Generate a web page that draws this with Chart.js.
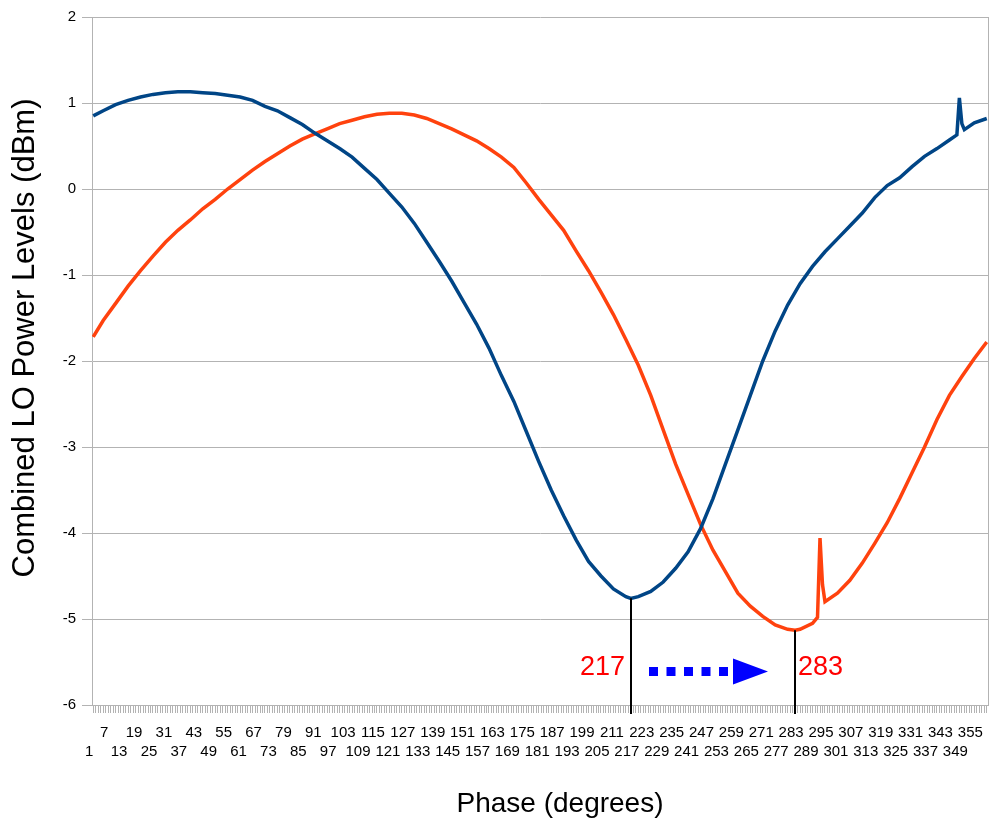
<!DOCTYPE html>
<html>
<head>
<meta charset="utf-8">
<script src="https://cdn.jsdelivr.net/npm/chart.js@4.4.1/dist/chart.umd.min.js"></script>
<style>
  html, body { margin: 0; padding: 0; background: #ffffff; }
  canvas { display: block; }
</style>
</head>
<body>
<canvas id="chart" width="990" height="822"></canvas>
<script>
// Combined LO power vs. phase, two sweeps (dBm)
const blueDeg = [1, 5, 10, 15, 20, 25, 30, 35, 40, 45, 50, 55, 60, 65, 70, 75, 80, 85, 90, 95,
                 100, 105, 110, 115, 120, 125, 130, 135, 140, 145, 150, 155, 160, 165, 170, 175, 180, 185, 190, 195,
                 200, 205, 210, 215, 217, 220, 225, 230, 235, 240, 245, 250, 255, 260, 265, 270, 275, 280, 285, 290,
                 295, 300, 305, 310, 315, 320, 325, 330, 335, 340, 345, 348, 349, 350, 351, 355, 360];
const blueDbm = [0.85, 0.91, 0.98, 1.03, 1.07, 1.10, 1.12, 1.13, 1.13, 1.12, 1.11, 1.09, 1.07, 1.03, 0.96, 0.91, 0.83, 0.75, 0.65, 0.56,
                 0.47, 0.37, 0.24, 0.11, -0.05, -0.21, -0.40, -0.62, -0.84, -1.07, -1.32, -1.57, -1.85, -2.17, -2.47, -2.82, -3.17, -3.50, -3.80, -4.08,
                 -4.33, -4.50, -4.65, -4.74, -4.76, -4.74, -4.68, -4.57, -4.41, -4.22, -3.95, -3.60, -3.20, -2.80, -2.40, -2.00, -1.65, -1.35, -1.10, -0.90,
                 -0.73, -0.58, -0.43, -0.28, -0.10, 0.04, 0.13, 0.26, 0.38, 0.47, 0.57, 0.63, 1.06, 0.76, 0.69, 0.77, 0.82];

const orangeDeg = [1, 5, 10, 15, 20, 25, 30, 35, 40, 45, 50, 55, 60, 65, 70, 75, 80, 85, 90, 95,
                   100, 105, 110, 115, 120, 125, 130, 135, 140, 145, 150, 155, 160, 165, 170, 175, 180, 185, 190, 195,
                   200, 205, 210, 215, 220, 225, 230, 235, 240, 245, 250, 255, 260, 265, 270, 275, 280, 283, 285, 290,
                   292, 293, 294, 295, 300, 305, 310, 315, 320, 325, 330, 335, 340, 345, 350, 355, 360];
const orangeDbm = [-1.72, -1.53, -1.33, -1.13, -0.95, -0.78, -0.62, -0.48, -0.36, -0.23, -0.12, 0.00, 0.11, 0.22, 0.32, 0.41, 0.50, 0.58, 0.64, 0.70,
                   0.76, 0.80, 0.84, 0.87, 0.88, 0.88, 0.86, 0.82, 0.76, 0.70, 0.63, 0.56, 0.47, 0.37, 0.25, 0.07, -0.12, -0.30, -0.48, -0.72,
                   -0.95, -1.20, -1.46, -1.75, -2.05, -2.40, -2.80, -3.20, -3.55, -3.90, -4.20, -4.45, -4.70, -4.85, -4.97, -5.07, -5.12, -5.13, -5.12, -5.05,
                   -4.98, -4.06, -4.60, -4.80, -4.70, -4.55, -4.35, -4.12, -3.88, -3.60, -3.30, -3.00, -2.68, -2.40, -2.18, -1.97, -1.78];

// Phase categories 1..360; every sixth one is labelled, alternating rows
const phaseCategories = Array.from({ length: 360 }, (_, i) => i + 1);
const yTickValues = [-6, -5, -4, -3, -2, -1, 0, 1, 2];

// Minima marked under the curves
const minimaDeg = [217, 283];

const BLUE = '#004586';
const ORANGE = '#ff420e';
const GRID = '#b3b3b3';
const FONT = '"Liberation Sans", Arial, sans-serif';

function toPoints(xs, ys) {
  return xs.map((x, i) => ({ x: x, y: ys[i] }));
}
function valueAt(xs, ys, deg) {
  const i = xs.indexOf(deg);
  return i >= 0 ? ys[i] : null;
}

const frame = {
  id: 'frame',
  beforeDatasetsDraw(chart) {
    const { ctx, chartArea: a } = chart;
    ctx.save();
    ctx.strokeStyle = GRID;
    ctx.lineWidth = 1;
    ctx.beginPath();
    ctx.moveTo(a.right + 0.5, a.top);
    ctx.lineTo(a.right + 0.5, a.bottom);
    ctx.stroke();
    ctx.restore();
  },
  afterDraw(chart) {
    const { ctx, chartArea: a } = chart;
    ctx.save();
    ctx.fillStyle = '#000000';
    ctx.textAlign = 'center';
    ctx.textBaseline = 'middle';
    ctx.font = '28px ' + FONT;
    ctx.fillText('Phase (degrees)', (a.left + a.right) / 2 + 20, 804);
    ctx.font = '31px ' + FONT;
    ctx.translate(25, 338);
    ctx.rotate(-Math.PI / 2);
    ctx.fillText('Combined LO Power Levels (dBm)', 0, 0);
    ctx.restore();
  }
};

const minimaMarks = {
  id: 'minimaMarks',
  afterDatasetsDraw(chart) {
    const { ctx, chartArea: a, scales } = chart;
    const xs = scales.x, ys = scales.y;
    const sources = [[blueDeg, blueDbm], [orangeDeg, orangeDbm]];
    const px = [];
    ctx.save();
    minimaDeg.forEach((deg, k) => {
      const x = Math.round(xs.getPixelForValue(deg));
      const y = ys.getPixelForValue(valueAt(sources[k][0], sources[k][1], deg));
      px.push(x);
      ctx.strokeStyle = '#000000';
      ctx.lineWidth = 2;
      ctx.beginPath();
      ctx.moveTo(x, y);
      ctx.lineTo(x, a.bottom + 9);
      ctx.stroke();
      ctx.fillStyle = '#ff0000';
      ctx.font = '27px ' + FONT;
      ctx.textBaseline = 'middle';
      ctx.textAlign = k === 0 ? 'right' : 'left';
      ctx.fillText(String(deg), k === 0 ? x - 6 : x + 3, ys.getPixelForValue(-5.57));
    });
    // dotted shift arrow from the first minimum to the second
    const ay = ys.getPixelForValue(-5.61);
    const x0 = px[0] + 18, tip = px[1] - 27, head = 35;
    ctx.strokeStyle = '#0000ff';
    ctx.fillStyle = '#0000ff';
    ctx.lineWidth = 9;
    ctx.setLineDash([9, 8.5]);
    ctx.beginPath();
    ctx.moveTo(x0, ay);
    ctx.lineTo(tip - head - 4, ay);
    ctx.stroke();
    ctx.setLineDash([]);
    ctx.beginPath();
    ctx.moveTo(tip - head, ay - 13);
    ctx.lineTo(tip, ay);
    ctx.lineTo(tip - head, ay + 13);
    ctx.closePath();
    ctx.fill();
    ctx.restore();
  }
};

new Chart(document.getElementById('chart'), {
  type: 'line',
  data: {
    datasets: [
      { label: 'Sweep 1', data: toPoints(blueDeg, blueDbm), borderColor: BLUE, borderWidth: 3.5,
        pointRadius: 0, tension: 0, fill: false },
      { label: 'Sweep 2', data: toPoints(orangeDeg, orangeDbm), borderColor: ORANGE, borderWidth: 3.5,
        pointRadius: 0, tension: 0, fill: false }
    ]
  },
  options: {
    responsive: false,
    animation: false,
    devicePixelRatio: 1,
    layout: { padding: { left: 0, right: 2, top: 17, bottom: 0 } },
    plugins: { legend: { display: false }, tooltip: { enabled: false } },
    scales: {
      x: {
        type: 'linear',
        min: 0.5,
        max: 360.5,
        afterBuildTicks(scale) {
          scale.ticks = phaseCategories.map(v => ({ value: v }));
        },
        afterFit(scale) {
          scale.height = 117;
          scale.paddingLeft = 0;
          scale.paddingRight = 0;
        },
        grid: { drawOnChartArea: false, color: GRID, tickLength: 8, lineWidth: 1 },
        border: { color: GRID },
        ticks: {
          autoSkip: false,
          maxRotation: 0,
          minRotation: 0,
          padding: 10,
          labelOffset: -4,
          color: '#000000',
          font: { family: FONT, size: 15, lineHeight: 1.27 },
          callback(v) {
            if ((v - 1) % 6 !== 0) return '';
            const k = (v - 1) / 6;
            return k % 2 === 0 ? ['', String(v)] : [String(v), ''];
          }
        }
      },
      y: {
        min: -6,
        max: 2,
        afterBuildTicks(scale) {
          scale.ticks = yTickValues.map(v => ({ value: v }));
        },
        afterFit(scale) { scale.width = 92; },
        grid: { color: GRID, tickLength: 10, lineWidth: 1 },
        border: { color: GRID },
        ticks: {
          padding: 6,
          color: '#000000',
          font: { family: FONT, size: 15 }
        }
      }
    }
  },
  plugins: [frame, minimaMarks]
});
</script>
</body>
</html>
